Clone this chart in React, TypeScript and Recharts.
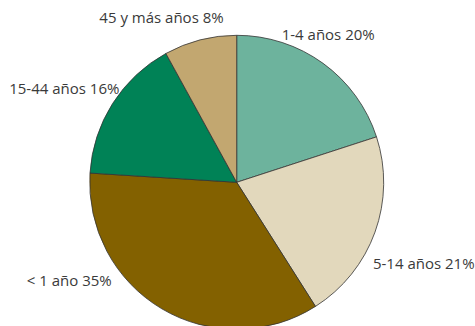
import React from "react";
import { PieChart, Pie, Cell } from "recharts";

const categories = ["1-4 años", "5-14 años", "< 1 año", "15-44 años", "45 y más años"];
const values = [20, 21, 35, 16, 8];
const colors = ["#6db39d", "#e2d8bc", "#836100", "#008256", "#c2a770"];

const data = categories.map((name, i) => ({ name, value: values[i] }));

// label placement tweaks (relative to a radial anchor point)
const labelAdjust = [
  { dx: -52, dy: -15, anchor: "start" },
  { dx: -19, dy: 25, anchor: "start" },
  { dx: -41, dy: -44, anchor: "end" },
  { dx: 22, dy: -6, anchor: "end" },
  { dx: 28, dy: -5, anchor: "end" },
];

const RAD = Math.PI / 180;

const renderLabel = (props: any) => {
  const { cx, cy, midAngle, outerRadius, index, name, value } = props;
  const r = outerRadius + 18;
  const x = cx + r * Math.cos(-midAngle * RAD);
  const y = cy + r * Math.sin(-midAngle * RAD);
  const adj = labelAdjust[index];
  return (
    <text
      x={x + adj.dx}
      y={y + adj.dy}
      textAnchor={adj.anchor}
      dominantBaseline="central"
      fill="#3a3a3a"
      fontSize={15}
      fontFamily="Open Sans"
    >
      {`${name} ${value}%`}
    </text>
  );
};

export default function App() {
  return (
    <div style={{ position: "absolute", left: 0, top: 0, background: "#fff" }}>
      <PieChart width={475} height={326} margin={{ top: 0, right: 0, bottom: 0, left: 0 }}>
        <Pie
          data={data}
          dataKey="value"
          nameKey="name"
          cx={236.7}
          cy={182.3}
          outerRadius={147}
          startAngle={90}
          endAngle={-270}
          stroke="#333"
          strokeWidth={0.8}
          label={renderLabel}
          labelLine={false}
          isAnimationActive={false}
        >
          {data.map((d, i) => (
            <Cell key={d.name} fill={colors[i]} />
          ))}
        </Pie>
      </PieChart>
    </div>
  );
}
